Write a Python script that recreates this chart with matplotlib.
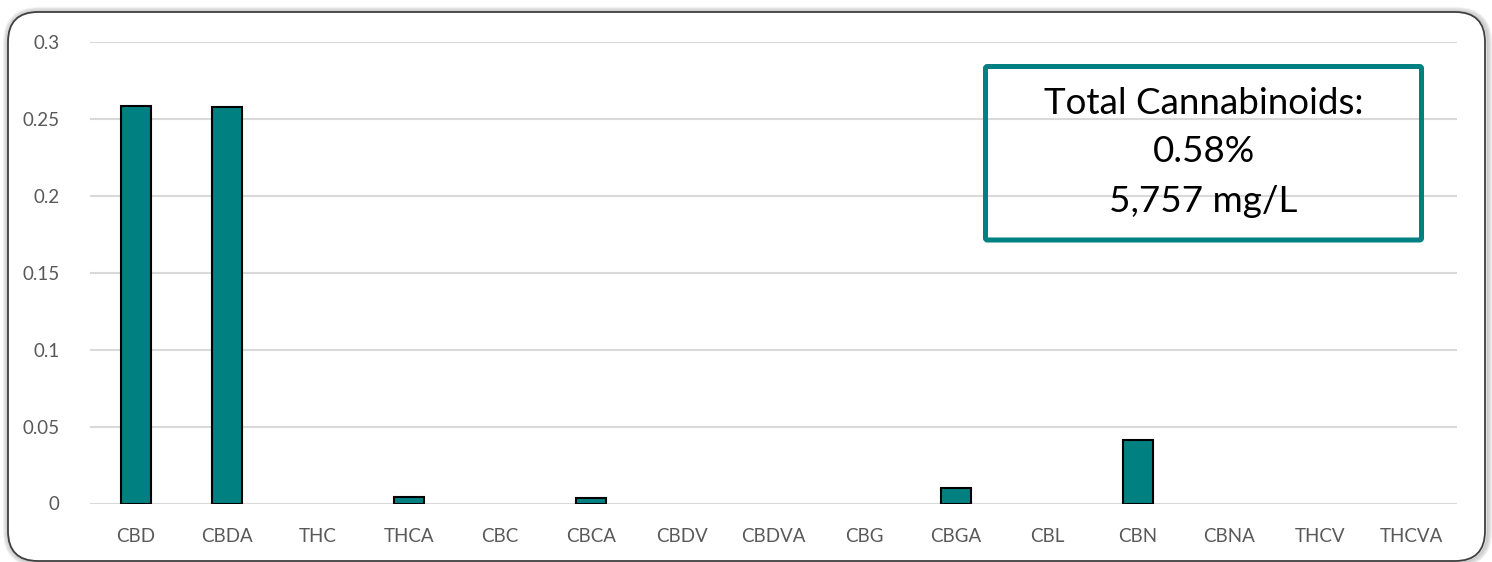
import matplotlib
matplotlib.use("Agg")
import matplotlib.pyplot as plt
from matplotlib.patches import FancyBboxPatch
from matplotlib.transforms import IdentityTransform

categories = ["CBD", "CBDA", "THC", "THCA", "CBC", "CBCA", "CBDV", "CBDVA",
              "CBG", "CBGA", "CBL", "CBN", "CBNA", "THCV", "THCVA"]
values = [0.2587, 0.2575, 0.0, 0.0045, 0.0, 0.0033, 0.0, 0.0,
          0.0, 0.0104, 0.0, 0.0413, 0.0, 0.0, 0.0]
yticks = [0, 0.05, 0.1, 0.15, 0.2, 0.25, 0.3]
ytick_labels = ["0", "0.05", "0.1", "0.15", "0.2", "0.25", "0.3"]
box_lines = ["Total Cannabinoids:", "0.58%", "5,757 mg/L"]

W, H = 1492, 562
DPI = 100
plt.rcParams['font.family'] = ['Lato', 'DejaVu Sans']

fig = plt.figure(figsize=(W / DPI, H / DPI), dpi=DPI)
fig.patch.set_facecolor("white")

def px_to_fig(x0, y0_top, x1, y1_top):
    return [x0 / W, 1 - y1_top / H, (x1 - x0) / W, (y1_top - y0_top) / H]

# outer rounded frame with soft shadow (pixel coords, origin bottom-left)
fx0, fy0_top, fx1, fy1_top = 8, 12, 1485, 561
for i, a in enumerate([0.05, 0.06, 0.08, 0.10, 0.12]):
    g = 5 - i
    sh = FancyBboxPatch((fx0 - g + 1, H - fy1_top - g), (fx1 - fx0) + 2 * g, (fy1_top - fy0_top) + 2 * g - 1,
                        boxstyle="round,pad=0,rounding_size=%d" % (30 + g),
                        transform=IdentityTransform(), facecolor="none",
                        edgecolor="black", alpha=a, linewidth=1.5, zorder=0)
    fig.patches.append(sh)
frame = FancyBboxPatch((fx0, H - fy1_top), fx1 - fx0, fy1_top - fy0_top,
                       boxstyle="round,pad=0,rounding_size=30",
                       transform=IdentityTransform(), facecolor="white",
                       edgecolor="#404040", linewidth=1.3, zorder=0.5)
fig.patches.append(frame)

ax = fig.add_axes(px_to_fig(90, 42, 1457, 503.5))
ax.set_zorder(2)
ax.set_facecolor("none")
x = list(range(len(categories)))
edges = ["black" if v > 0 else "none" for v in values]
ax.bar(x, values, width=0.33, color="#008080", edgecolor=edges, linewidth=1.5, zorder=3)
ax.set_xlim(-0.5, len(categories) - 0.5)
ax.set_ylim(0, 0.3)
ax.set_yticks(yticks)
ax.set_yticklabels(ytick_labels)
ax.set_xticks(x)
ax.set_xticklabels(categories)
ax.grid(axis="y", color="#d9d9d9", linewidth=1.5, zorder=0)
ax.set_axisbelow(True)
for s in ax.spines.values():
    s.set_visible(False)
ax.tick_params(axis="both", length=0, labelsize=13.5, colors="#595959")
ax.tick_params(axis="y", pad=22)
ax.tick_params(axis="x", pad=18)

# text box
bx0, by0_top, bx1, by1_top = 985.5, 66.5, 1421.5, 240
box = FancyBboxPatch((bx0, H - by1_top), bx1 - bx0, by1_top - by0_top,
                     boxstyle="round,pad=0,rounding_size=2",
                     transform=IdentityTransform(), facecolor="none",
                     edgecolor="#008080", linewidth=3.6, zorder=5)
fig.patches.append(box)
cx = (bx0 + bx1) / 2
for ty, line in zip([103, 152, 201], box_lines):
    fig.text(cx / W, 1 - ty / H, line, ha="center", va="center",
             fontsize=26.5, color="black", zorder=6)

fig.savefig("out.png", dpi=DPI, facecolor="white")
